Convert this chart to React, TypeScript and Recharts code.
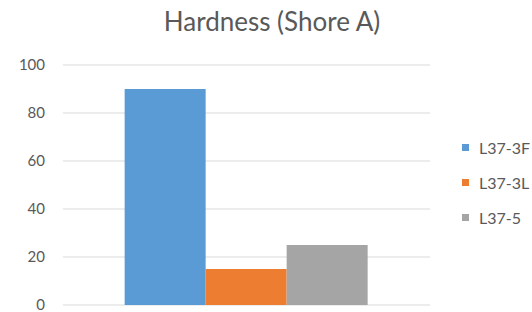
import type { ReactElement } from 'react';
import { Bar, BarChart, CartesianGrid, Legend, XAxis, YAxis } from 'recharts';

const categories = [''];
const seriesNames = ['L37-3F', 'L37-3L', 'L37-5'];
const seriesValues = [[90], [15], [25]];
const seriesColors = ['#5B9BD5', '#ED7D31', '#A5A5A5'];
const yTicks = [0, 20, 40, 60, 80, 100];

const FONT = 'Lato, "Open Sans", sans-serif';
const TEXT = '#595959';

const data = categories.map((name, i) => {
  const row: Record<string, string | number> = { name };
  seriesNames.forEach((s, k) => {
    row[s] = seriesValues[k][i];
  });
  return row;
});

// Excel-style legend: small square swatch + label, stacked vertically
function SideLegend(): ReactElement {
  return (
    <div style={{ fontFamily: FONT, fontSize: 16, color: TEXT }}>
      {seriesNames.map((s, k) => (
        <div key={s} style={{ display: 'flex', alignItems: 'center', height: 35 }}>
          <span
            style={{
              display: 'inline-block',
              width: 7,
              height: 7,
              background: seriesColors[k],
              marginRight: 10,
            }}
          />
          {s}
        </div>
      ))}
    </div>
  );
}

export default function App(): ReactElement {
  return (
    <div
      style={{
        position: 'fixed',
        left: 0,
        top: 0,
        width: 532,
        height: 312,
        background: '#fff',
      }}
    >
      <div
        style={{
          position: 'absolute',
          top: 6,
          left: 0,
          width: 544,
          textAlign: 'center',
          fontFamily: FONT,
          fontSize: 26,
          lineHeight: '31px',
          color: TEXT,
        }}
      >
        Hardness (Shore A)
      </div>
      <BarChart
        width={532}
        height={312}
        data={data}
        margin={{ top: 65, right: 102, bottom: 7, left: 0 }}
        barCategoryGap="16.8%"
        barGap={0}
      >
        <CartesianGrid vertical={false} stroke="#D9D9D9" />
        <XAxis dataKey="name" hide height={0} />
        <YAxis
          width={63}
          domain={[0, 100]}
          ticks={yTicks}
          interval={0}
          axisLine={false}
          tickLine={false}
          tickSize={0}
          tickMargin={18}
          tick={{ fontSize: 15, fill: TEXT, fontFamily: FONT }}
        />
        <Legend
          layout="vertical"
          align="center"
          verticalAlign="middle"
          content={() => <SideLegend />}
          wrapperStyle={{ left: 462, top: 130, width: 70 }}
        />
        {seriesNames.map((s, k) => (
          <Bar key={s} dataKey={s} fill={seriesColors[k]} isAnimationActive={false} />
        ))}
      </BarChart>
    </div>
  );
}
